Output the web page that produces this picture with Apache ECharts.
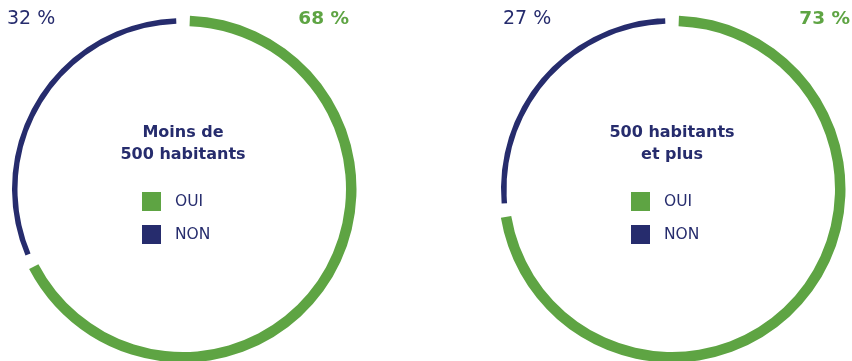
<!DOCTYPE html>
<html>
<head>
<meta charset="utf-8">
<script src="https://cdn.jsdelivr.net/npm/echarts@6/dist/echarts.min.js"></script>
<style>
  html, body { margin: 0; padding: 0; background: #ffffff; }
  #chart { width: 852px; height: 361px; }
</style>
</head>
<body>
<div id="chart"></div>
<script>
// Share of answers per commune size group
const groups = ['Moins de\n500 habitants', '500 habitants\net plus'];
const answers = ['OUI', 'NON'];
const ouiValues = [68, 73];
const nonValues = [32, 27];

const GREEN = '#5ea443';
const NAVY = '#262c6d';
const FONT = '"DejaVu Sans", "Liberation Sans", sans-serif';

const centers = [[183, 189], [672, 189]];
const greenRadius = [163, 173.5];
const navyRadius = [165.5, 171];

const chart = echarts.init(document.getElementById('chart'), null, { renderer: 'canvas' });

const series = [];
const titles = [];
const legends = [];
const texts = [];

groups.forEach((g, i) => {
  const c = centers[i];
  const common = {
    type: 'pie',
    center: c,
    startAngle: 90,
    clockwise: true,
    padAngle: 4.6,
    silent: true,
    label: { show: false },
    labelLine: { show: false },
    emphasis: { disabled: true },
    animation: false
  };
  // OUI ring (thick, green)
  series.push(Object.assign({}, common, {
    name: g + ' oui',
    radius: greenRadius,
    data: [
      { name: answers[0], value: ouiValues[i], itemStyle: { color: GREEN } },
      { name: 'rest', value: nonValues[i], itemStyle: { color: 'rgba(0,0,0,0)' } }
    ]
  }));
  // NON ring (thin, navy)
  series.push(Object.assign({}, common, {
    name: g + ' non',
    radius: navyRadius,
    data: [
      { name: 'rest', value: ouiValues[i], itemStyle: { color: 'rgba(0,0,0,0)' } },
      { name: answers[1], value: nonValues[i], itemStyle: { color: NAVY } }
    ]
  }));

  titles.push({
    text: g,
    left: c[0],
    top: 122,
    padding: 0,
    textAlign: 'center',
    textStyle: {
      color: NAVY, fontFamily: FONT, fontSize: 16, fontWeight: 'bold', lineHeight: 22
    }
  });

  legends.push({
    orient: 'vertical',
    left: c[0] - 41,
    top: 192,
    padding: 0,
    itemWidth: 19,
    itemHeight: 19,
    itemGap: 14,
    selectedMode: false,
    icon: 'rect',
    data: [
      { name: answers[0], itemStyle: { color: GREEN } },
      { name: answers[1], itemStyle: { color: NAVY } }
    ],
    textStyle: { color: NAVY, fontFamily: FONT, fontSize: 15.5, padding: [0, 0, 0, 9] }
  });

  // percentage figures above each ring
  texts.push({
    type: 'text',
    left: i === 0 ? 7 : 503,
    top: 10,
    style: {
      text: nonValues[i] + ' %',
      fill: NAVY, font: 'normal 19px ' + FONT
    }
  });
  texts.push({
    type: 'text',
    right: i === 0 ? 852 - 349 : 2,
    top: 10,
    style: {
      text: ouiValues[i] + ' %',
      fill: GREEN, font: 'bold 18.5px ' + FONT
    }
  });
});

chart.setOption({
  backgroundColor: '#ffffff',
  animation: false,
  title: titles,
  legend: legends,
  series: series,
  graphic: texts
});
</script>
</body>
</html>
